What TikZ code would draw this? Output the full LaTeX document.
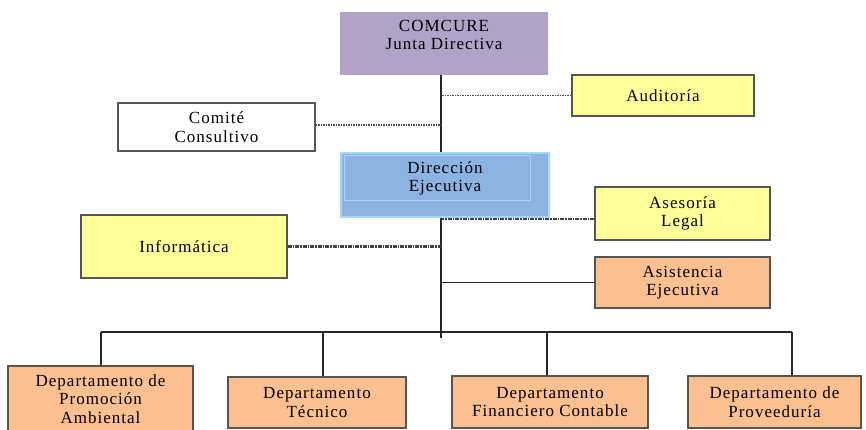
\documentclass[tikz,border=0pt]{standalone}
\usepackage{fontspec}
\setmainfont{Liberation Serif}[LetterSpace=6]
\usepackage{tikz}
\usetikzlibrary{arrows}

\definecolor{lila}{HTML}{B3A2C7}
\definecolor{azul}{HTML}{8DB3E2}
\definecolor{celeste}{HTML}{A3D8F7}
\definecolor{amarillo}{HTML}{FFFF99}
\definecolor{naranja}{HTML}{FAC090}
\definecolor{borde}{HTML}{555555}

\begin{document}
\begin{tikzpicture}[x=1pt,y=-1pt,font=\fontsize{17}{18.5}\selectfont]
  \tikzstyle{every node}=[align=center,inner sep=0pt]
  \tikzstyle{caja}=[draw=borde,line width=1.3pt]
  \tikzstyle{linea}=[line width=1.9pt,draw=black!85]
  \tikzstyle{punteado}=[line width=1.6pt,draw=black!70,dash pattern=on 1.5pt off 1pt]
  \tikzstyle{rayado}=[line width=2.2pt,draw=black!75,dash pattern=on 4pt off 1pt on 1.5pt off 1pt]
  \useasboundingbox (0,0) rectangle (866,430);

  \node[fill=lila,minimum width=208pt,minimum height=63pt,
        label={[name=JDt,yshift=8.5pt]center:{COMCURE\\Junta Directiva}}] (JD) at (444,43.5) {}; % Junta
  \node[caja,fill=white,minimum width=197pt,minimum height=48pt]    (CC) at (216.5,127) {Comité\\Consultivo};
  \node[caja,fill=amarillo,minimum width=182pt,minimum height=41pt] (AU) at (663,95.5) {Auditoría};
  \node[fill=azul,draw=celeste,line width=1.2pt,minimum width=208pt,minimum height=64pt,
        label={[name=DEt,yshift=6.5pt]center:{Dirección\\Ejecutiva}}] (DE) at (445,185) {}; % Direccion
  \node[caja,fill=amarillo,minimum width=175pt,minimum height=53pt] (AL) at (682.5,213.5) {Asesoría\\Legal};
  \node[caja,fill=amarillo,minimum width=206pt,minimum height=63pt] (IN) at (184,246.5) {Informática};
  \node[caja,fill=naranja,minimum width=175pt,minimum height=51pt]  (AE) at (682.5,282.5) {Asistencia\\Ejecutiva};
  % departamentos
  \node[caja,fill=naranja,minimum width=185pt,minimum height=66pt]  (PA) at (100.5,399) {Departamento de\\Promoción\\Ambiental};
  \node[caja,fill=naranja,minimum width=178pt,minimum height=51pt]  (DT) at (317,402.5) {Departamento\\Técnico};
  \node[caja,fill=naranja,minimum width=196pt,minimum height=52pt]  (FC) at (550,402) {Departamento\\Financiero Contable};
  \node[caja,fill=naranja,minimum width=173pt,minimum height=52pt]  (PR) at (774.5,402) {Departamento de\\Proveeduría};

  \draw[celeste,line width=0.8pt] ([shift={(4,3)}]DE.north west) rectangle ([shift={(-19,-17)}]DE.south east);

  \coordinate (T) at (441,338); % fin del tronco
  \coordinate (B) at (441,332); % barra
  \coordinate (bPA) at (101,332);
  \coordinate (bDT) at (323,332);
  \coordinate (bFC) at (547,332);
  \coordinate (bPR) at (792,332);

  \draw[linea] (JD.south -| T) -- (DE.north -| T);
  \draw[linea] (DE.south -| T) -- (T);
  \draw[punteado] (AU.west) -- (AU.west -| T);
  \draw[punteado] ([yshift=2pt]CC.east) -- ([yshift=2pt]CC.east -| T);
  \draw[rayado] ([yshift=-5.5pt]AL.west) -- ([yshift=-5.5pt]AL.west -| T);
  \draw[rayado] (IN.east) -- (IN.east -| T);
  \draw[linea] (AE.west) -- (AE.west -| T);
  \draw[linea] (bPA) -- (bPR);
  \foreach \d in {PA,DT,FC,PR}
    \draw[linea] (b\d) -- (b\d |- \d.north);
\end{tikzpicture}
\end{document}
